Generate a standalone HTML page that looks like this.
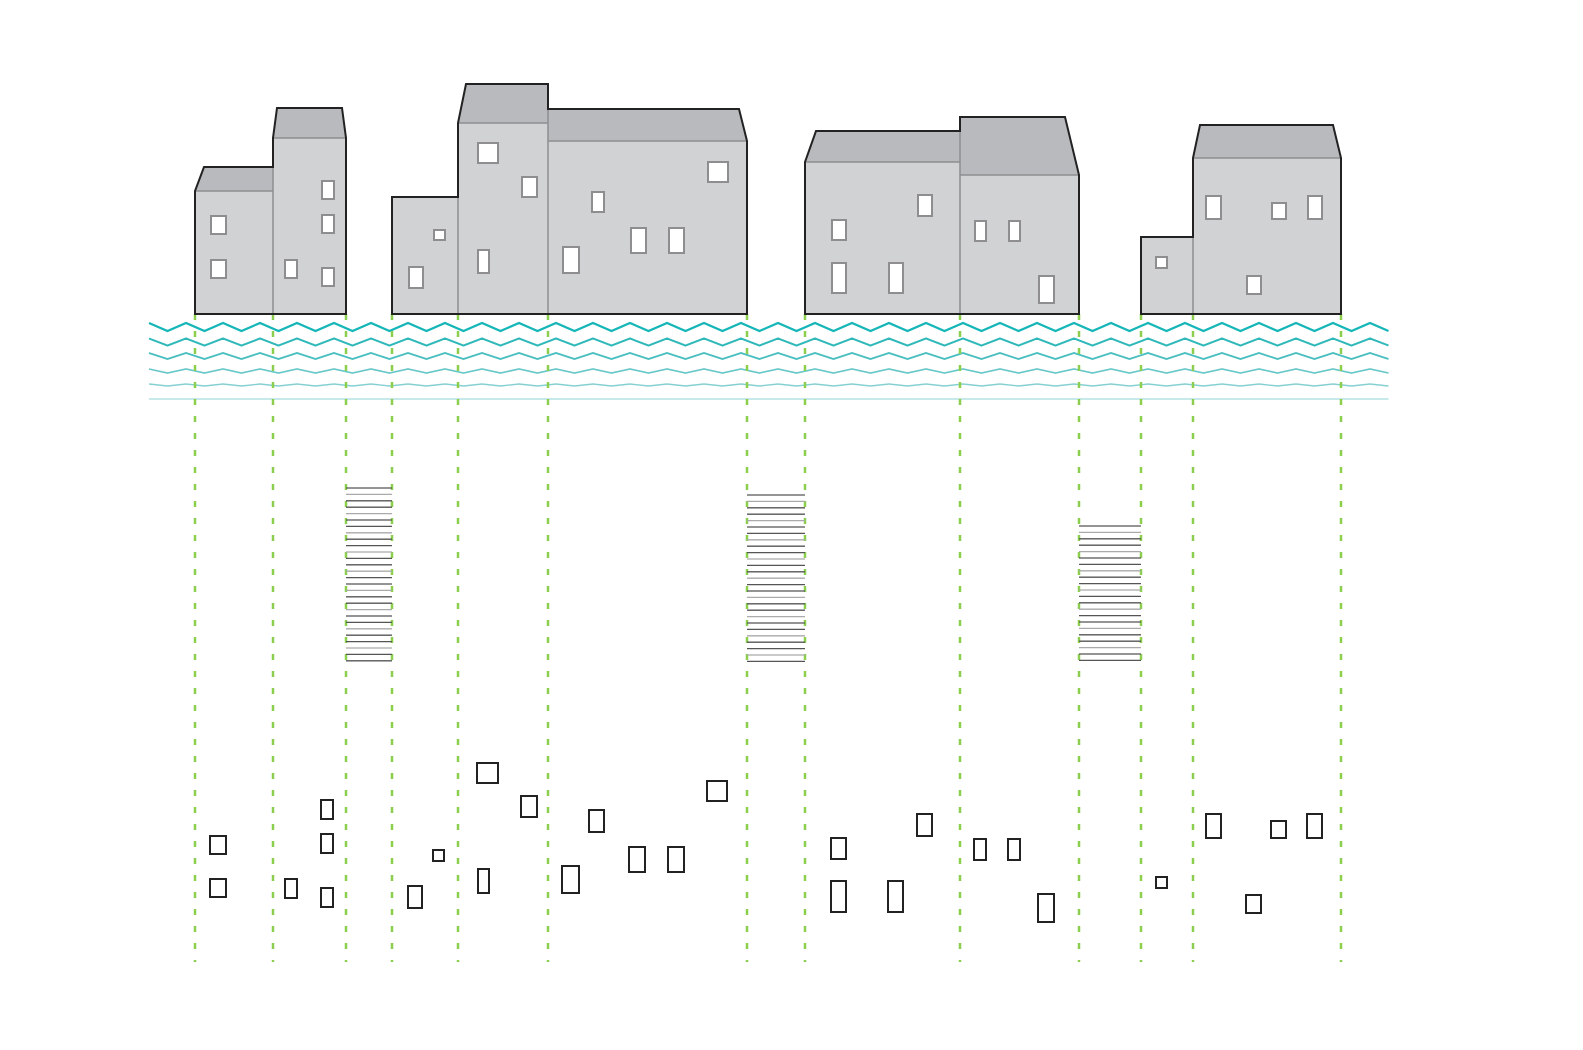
<!DOCTYPE html>
<html><head><meta charset="utf-8"><style>html,body{margin:0;padding:0;background:#fff}svg{display:block}</style></head>
<body>
<svg id="s" width="1583" height="1050" viewBox="0 0 1583 1050" xmlns="http://www.w3.org/2000/svg">
<g id="waves" fill="none"></g>
<g id="dash" stroke="#8ccf4f" stroke-width="2.5" stroke-dasharray="6 11"></g>
<g id="ladders"></g>
<!-- Building 1 -->
<g stroke-linejoin="miter">
<path d="M195,314 L195,191 L204,167 L273,167 L273,138 L277,108 L342,108 L346,138 L346,314 Z" fill="#d1d2d4"/>
<path d="M195,191 L204,167 L273,167 L273,191 Z" fill="#b9babd"/>
<path d="M273,138 L277,108 L342,108 L346,138 Z" fill="#b9babd"/>
<path d="M195,191 L273,191 M273,138 L346,138 M273,167 L273,314" stroke="#8e8e90" stroke-width="1.5" fill="none"/>
<path d="M195,314 L195,191 L204,167 L273,167 L273,138 L277,108 L342,108 L346,138 L346,314 Z" fill="none" stroke="#222" stroke-width="2"/>
<!-- Building 2 -->
<path d="M392,314 L392,197 L458,197 L458,123 L466,84 L548,84 L548,109 L739,109 L747,141 L747,314 Z" fill="#d1d2d4"/>
<path d="M458,123 L466,84 L548,84 L548,123 Z" fill="#b9babd"/>
<path d="M548,141 L548,109 L739,109 L747,141 Z" fill="#b9babd"/>
<path d="M458,123 L548,123 M548,141 L747,141 M458,197 L458,314 M548,84 L548,314" stroke="#8e8e90" stroke-width="1.5" fill="none"/>
<path d="M392,314 L392,197 L458,197 L458,123 L466,84 L548,84 L548,109 L739,109 L747,141 L747,314 Z" fill="none" stroke="#222" stroke-width="2"/>
<!-- Building 3 -->
<path d="M805,314 L805,162 L816,131 L960,131 L960,117 L1065,117 L1079,175 L1079,314 Z" fill="#d1d2d4"/>
<path d="M805,162 L816,131 L960,131 L960,162 Z" fill="#b9babd"/>
<path d="M960,175 L960,117 L1065,117 L1079,175 Z" fill="#b9babd"/>
<path d="M805,162 L960,162 M960,175 L1079,175 M960,117 L960,314" stroke="#8e8e90" stroke-width="1.5" fill="none"/>
<path d="M805,314 L805,162 L816,131 L960,131 L960,117 L1065,117 L1079,175 L1079,314 Z" fill="none" stroke="#222" stroke-width="2"/>
<!-- Building 4 -->
<path d="M1141,314 L1141,237 L1193,237 L1193,158 L1200,125 L1333,125 L1341,158 L1341,314 Z" fill="#d1d2d4"/>
<path d="M1193,158 L1200,125 L1333,125 L1341,158 Z" fill="#b9babd"/>
<path d="M1193,158 L1341,158 M1193,237 L1193,314" stroke="#8e8e90" stroke-width="1.5" fill="none"/>
<path d="M1141,314 L1141,237 L1193,237 L1193,158 L1200,125 L1333,125 L1341,158 L1341,314 Z" fill="none" stroke="#222" stroke-width="2"/>
</g>
<g id="wins" fill="#fff" stroke="#8e8e90" stroke-width="2"></g>
<g id="sq" fill="none" stroke="#222" stroke-width="2"></g>
</svg>
<script>
var NS="http://www.w3.org/2000/svg";
function el(p,t,a){var e=document.createElementNS(NS,t);for(var k in a)e.setAttribute(k,a[k]);p.appendChild(e);return e;}
var W=document.getElementById('waves');
var ys=[327,342,356,371,385,399],amp=[4,3.5,3,2,1,0],col=["#16b6b8","#2fb8b9","#4bbfc0","#67c7c8","#86d0d2","#a6dcdd"],sw=[2.2,2,1.8,1.6,1.4,1.3];
for(var i=0;i<6;i++){var pts=[];for(var x=149,j=0;x<=1397;x+=18.5,j++){pts.push(x.toFixed(1)+","+(ys[i]+(j%2?amp[i]:-amp[i])));}
el(W,'polyline',{points:pts.join(' '),stroke:col[i],'stroke-width':sw[i]});}
var D=document.getElementById('dash');
[195,273,346,392,458,548,747,805,960,1079,1141,1193,1341].forEach(function(x){el(D,'line',{x1:x,y1:314,x2:x,y2:962});});
var L=document.getElementById('ladders');
[[346,392,488],[747,805,495],[1079,1141,526]].forEach(function(l){var k=0;for(var y=l[2];y<=666;y+=6.4,k++){el(L,'line',{x1:l[0],x2:l[1],y1:y,y2:y,stroke:(k%3==1)?'#aaa':'#555','stroke-width':1.3});}});
var wins=[[211,216,15,18],[211,260,15,18],[322,181,12,18],[322,215,12,18],[285,260,12,18],[322,268,12,18],
[478,143,20,20],[522,177,15,20],[409,267,14,21],[434,230,11,10],[478,250,11,23],[563,247,16,26],[592,192,12,20],[631,228,15,25],[669,228,15,25],[708,162,20,20],
[832,220,14,20],[832,263,14,30],[918,195,14,21],[889,263,14,30],[975,221,11,20],[1009,221,11,20],[1039,276,15,27],
[1206,196,15,23],[1272,203,14,16],[1308,196,14,23],[1156,257,11,11],[1247,276,14,18]];
var G=document.getElementById('wins');wins.forEach(function(w){el(G,'rect',{x:w[0],y:w[1],width:w[2],height:w[3]});});
var sq=[[210,836,16,18],[210,879,16,18],[321,800,12,19],[321,834,12,19],[321,888,12,19],[285,879,12,19],[433,850,11,11],[408,886,14,22],[477,763,21,20],[521,796,16,21],[478,869,11,24],[562,866,17,27],[589,810,15,22],[629,847,16,25],[668,847,16,25],[707,781,20,20],[831,838,15,21],[831,881,15,31],[917,814,15,22],[888,881,15,31],[974,839,12,21],[1008,839,12,21],[1038,894,16,28],[1156,877,11,11],[1206,814,15,24],[1271,821,15,17],[1307,814,15,24],[1246,895,15,18]];
var S=document.getElementById('sq');sq.forEach(function(w){el(S,'rect',{x:w[0],y:w[1],width:w[2],height:w[3]});});
</script>
</body></html>
